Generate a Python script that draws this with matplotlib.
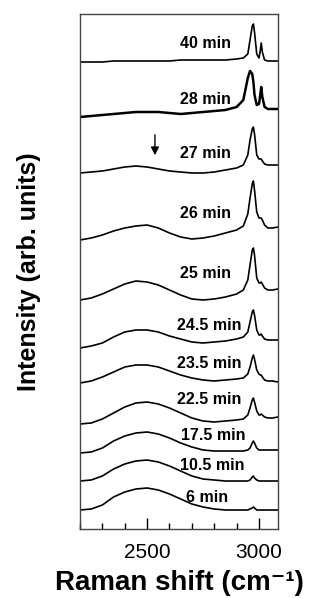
import matplotlib
matplotlib.use("Agg")
import matplotlib.pyplot as plt
from matplotlib.ticker import MultipleLocator, FixedLocator

plt.rcParams['font.family'] = ['Liberation Sans', 'DejaVu Sans']

# Raman shift grid (cm^-1)
shift = [2200, 2250, 2300, 2350, 2400, 2450, 2500, 2550, 2600, 2650, 2700, 2750,
         2800, 2850, 2900, 2930, 2950, 2960, 2970, 2975, 2980, 2990, 3000, 3005,
         3010, 3015, 3025, 3040, 3060, 3085]

# stacked spectra, arb. units
s_6 = [19, 20, 24, 32, 37, 40, 41, 39, 35, 30, 25, 22, 20, 19, 19, 19, 19, 20, 21, 22,
       21, 19, 19, 19, 19, 19, 19, 19, 19, 19]
s_10_5 = [48, 49, 53, 60, 65, 68, 69, 67, 63, 58, 53, 50, 49, 48, 48, 48, 48, 49, 52, 53,
          51, 49, 48, 48, 48, 48, 48, 48, 48, 48]
s_17_5 = [76, 77, 81, 88, 93, 96, 97, 95, 91, 86, 82, 79, 78, 78, 78, 78, 79, 81, 86, 88,
          86, 81, 79, 79, 79, 79, 79, 79, 79, 79]
s_22_5 = [105, 106, 110, 116, 122, 126, 127, 125, 121, 116, 111, 108, 107, 108, 109, 110,
          114, 121, 129, 131, 127, 118, 114, 114, 115, 114, 112, 111, 111, 112]
s_23_5 = [146, 148, 152, 157, 162, 164, 164, 162, 158, 154, 151, 149, 148, 149, 150, 151,
          155, 162, 171, 174, 170, 159, 155, 154, 154, 152, 149, 148, 148, 147]
s_24_5 = [181, 183, 186, 192, 197, 199, 199, 197, 193, 190, 187, 186, 187, 188, 190, 192,
          197, 207, 217, 219, 214, 199, 194, 194, 195, 193, 190, 189, 189, 189]
s_25 = [229, 231, 235, 240, 245, 248, 247, 244, 239, 234, 230, 229, 230, 232, 235, 239,
        249, 264, 279, 281, 274, 251, 246, 246, 247, 245, 241, 239, 239, 240]
s_26 = [289, 291, 294, 298, 301, 303, 304, 301, 296, 292, 290, 291, 293, 296, 299, 303,
        315, 331, 345, 348, 339, 317, 311, 311, 311, 309, 304, 301, 301, 302]
s_27 = [356, 357, 358, 360, 362, 363, 362, 360, 358, 357, 356, 356, 357, 359, 361, 364,
        374, 389, 400, 402, 395, 374, 370, 370, 370, 368, 365, 364, 364, 364]
s_28 = [412, 413, 414, 415, 416, 417, 417, 417, 416, 415, 416, 417, 418, 419, 422, 429,
        451, 458, 455, 447, 434, 424, 425, 433, 442, 432, 422, 420, 420, 420]
s_40 = [467, 467, 467, 468, 468, 468, 468, 468, 468, 469, 469, 469, 469, 469, 470, 471,
        475, 489, 503, 505, 497, 475, 471, 477, 486, 477, 469, 468, 468, 468]

spectra = [s_6, s_10_5, s_17_5, s_22_5, s_23_5, s_24_5, s_25, s_26, s_27, s_28, s_40]
labels = ['6 min', '10.5 min', '17.5 min', '22.5 min', '23.5 min', '24.5 min',
          '25 min', '26 min', '27 min', '28 min', '40 min']
label_x = [2768, 2790, 2795, 2777, 2777, 2777, 2759, 2759, 2759, 2759, 2759]
label_y = [32, 63, 94, 129, 165, 204, 255, 316, 375, 430, 486]

fig = plt.figure(figsize=(3.21, 5.98), dpi=100)
ax = fig.add_axes([80/321, 69/598, 198/321, 515/598])

for sp, lab, lx, ly in zip(spectra, labels, label_x, label_y):
    lw = 1.8 if lab == '28 min' else 1.2
    ax.plot(shift, sp, color='black', lw=lw)
    ax.text(lx, ly, lab, ha='center', va='center', fontsize=11.5, fontweight='bold')

ax.annotate('', xy=(2535, 371), xytext=(2535, 397),
            arrowprops=dict(arrowstyle='-|>', color='black', lw=1, mutation_scale=12))

ax.set_xlim(2200, 3085)
ax.set_ylim(0, 515)
ax.set_yticks([])
ax.xaxis.set_major_locator(FixedLocator([2500, 3000]))
ax.xaxis.set_minor_locator(MultipleLocator(100))
ax.tick_params(axis='x', which='major', direction='in', length=8, width=1, pad=10,
               labelsize=15)
ax.tick_params(axis='x', which='minor', direction='in', length=4, width=1)
for sp in ax.spines.values():
    sp.set_color('#444444')
    sp.set_linewidth(1.0)

ax.set_xlabel('Raman shift (cm\u207b\u00b9)', fontsize=20, fontweight='bold', labelpad=6)
ax.set_ylabel('Intensity (arb. units)', fontsize=18, fontweight='bold', labelpad=28)

fig.savefig('out.png', dpi=100)
